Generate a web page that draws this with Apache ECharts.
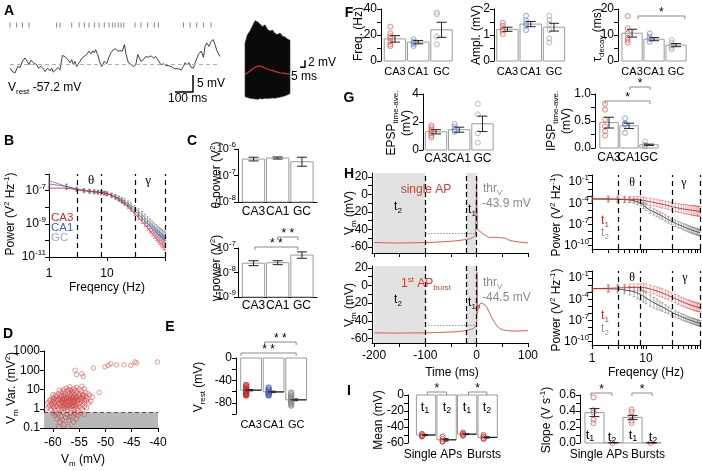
<!DOCTYPE html>
<html><head><meta charset="utf-8">
<script src="https://cdn.jsdelivr.net/npm/echarts@6/dist/echarts.min.js"></script>
<style>html,body{margin:0;padding:0;background:#fff}#c{width:702px;height:471px}</style>
</head><body><div id="c"></div>
<script>
// ================= DATA =================
// A: membrane potential trace (ms, mV) and spike times
const traceTimes = [0,13,28,43,56,69,83,95,106,117,130,148,158,172,185,195,209,222,232,241,254,265,278,291,306,321,334,343,352,361,371,384,395,402,413,426,439,450,460,469,476,487,500,510,524,537,550,561,574,587,599,611,624,636,645,658,673,686,699,710,717,728,741,754,769,784,797,810,821,828,839,852,865,880,895,908,921,936,951,964,973,984,995,1006,1019,1032,1047,1062,1075,1084,1093,1106,1117,1130,1140,1151,1158,1167];
const traceVm = [-58.2,-59.2,-59.6,-57.7,-58.0,-56.2,-55.2,-56.2,-57.2,-55.9,-56.6,-57.2,-58.2,-57.7,-58.4,-59.2,-58.2,-59.0,-58.2,-59.4,-58.7,-58.0,-58.7,-54.5,-54.8,-55.7,-56.6,-55.7,-57.2,-56.2,-57.7,-56.6,-56.2,-55.2,-55.7,-54.2,-53.2,-54.0,-53.1,-53.7,-52.8,-54.2,-56.6,-57.7,-56.2,-56.9,-55.0,-53.7,-52.8,-52.5,-53.2,-53.1,-53.2,-51.3,-54.2,-56.6,-57.2,-57.7,-57.2,-54.2,-53.7,-56.2,-55.7,-54.8,-55.0,-54.6,-55.2,-54.8,-55.7,-55.2,-57.2,-56.9,-57.4,-57.5,-57.7,-58.2,-58.4,-58.4,-58.7,-57.7,-56.6,-57.2,-56.6,-58.0,-58.2,-56.2,-54.2,-53.2,-55.0,-51.8,-50.8,-51.8,-50.4,-49.8,-49.3,-53.2,-53.7,-54.8];
const vRest = -57.2;
const spikeTimes = [0,37,69,106,259,278,343,384,413,439,469,495,524,550,569,584,602,617,632,695,728,765,802,825,964,1001,1038,1075,1117];
// A: EPSP waveform overlay (ms, mV relative)
const wfTimes = [0,2.5,5,7.5,10,12.5,15,17.5,20,22.5,25,27.5,30,32.5,35,37.5,40,42.5,45];
const wfUpper = [9,11.5,12.5,14,15.5,15.2,14.5,13.8,14.3,13,12.5,12.8,11.8,11.5,11.9,11,10.8,10.2,9.8];
const wfLower = [-6.5,-6.8,-7,-7.1,-7.2,-7.3,-7.1,-7.2,-7.0,-7.1,-7.0,-6.9,-7.0,-6.8,-6.7,-6.5,-6.3,-6.0,-5.6];
const wfMean = [0,0.4,0.9,1.5,2.0,2.3,2.3,2.1,1.8,1.5,1.2,1.0,0.8,0.6,0.4,0.3,0.2,0.1,0];

// B: power spectra (log10 V^2/Hz)
const freqs = [1,2,3,4,5,6,7,8,9,10,12,14,16,18,20,23,26,30,35,40,45,50,55,60,65,70,75,80,85,90,95,100];
const ca3LogPow = [-6.85,-6.85,-6.95,-7.0,-7.05,-7.08,-7.1,-7.12,-7.15,-7.2,-7.3,-7.42,-7.55,-7.68,-7.8,-7.98,-8.15,-8.38,-8.62,-8.85,-9.05,-9.25,-9.42,-9.58,-9.72,-9.85,-9.97,-10.08,-10.18,-10.27,-10.35,-10.42];
const ca1LogPow = [-6.6,-6.75,-6.9,-6.98,-7.02,-7.05,-7.08,-7.1,-7.13,-7.17,-7.26,-7.37,-7.48,-7.6,-7.72,-7.88,-8.03,-8.23,-8.45,-8.65,-8.83,-9.0,-9.15,-9.28,-9.4,-9.51,-9.61,-9.7,-9.78,-9.86,-9.93,-10.0];
const gcLogPow = [-6.4,-6.75,-6.92,-7.0,-7.05,-7.08,-7.1,-7.13,-7.16,-7.2,-7.28,-7.37,-7.46,-7.55,-7.64,-7.77,-7.9,-8.07,-8.27,-8.45,-8.62,-8.78,-8.92,-9.05,-9.17,-9.28,-9.38,-9.47,-9.55,-9.62,-9.69,-9.75];
const ca3LogErr = [0.08,0.08,0.08,0.08,0.08,0.08,0.08,0.08,0.09,0.09,0.1,0.1,0.1,0.1,0.11,0.11,0.12,0.12,0.13,0.13,0.14,0.14,0.15,0.15,0.16,0.16,0.17,0.17,0.18,0.18,0.19,0.2];
const ca1LogErr = [0.25,0.12,0.1,0.1,0.1,0.1,0.1,0.1,0.1,0.1,0.1,0.11,0.11,0.11,0.12,0.12,0.12,0.13,0.13,0.13,0.14,0.14,0.14,0.15,0.15,0.15,0.16,0.16,0.16,0.17,0.17,0.17];
const gcLogErr = [0.35,0.15,0.12,0.12,0.12,0.12,0.12,0.12,0.12,0.12,0.13,0.13,0.14,0.14,0.15,0.15,0.16,0.17,0.18,0.19,0.2,0.21,0.22,0.22,0.23,0.23,0.24,0.24,0.25,0.25,0.26,0.26];
const bandEdgesHz = [3,8,30,100];

// C: band power (log10 V^2)
const groups = ['CA3','CA1','GC'];
const thetaLogPow = [-6.38,-6.34,-6.48];
const thetaLogErr = [0.07,0.04,0.17];
const gammaLogPow = [-7.62,-7.6,-7.29];
const gammaLogErr = [0.1,0.08,0.13];

// D: Vm vs Vm variance
const dPoints = [[-55.8,100],[-55.5,60],[-54.5,66],[-54.2,47],[-52.3,130],[-50.1,150],[-49.5,180],[-49,220],[-47.9,190],[-46.5,190],[-45.2,180],[-44.4,270],[-44.1,240],[-40.1,270],[-51.2,7],
[-57.5,12],[-56.8,14],[-56,11],[-55.5,13],[-55,10],[-54.5,15],[-58,10],[-57,10.5],[-54,11],[-55.8,9],
[-59,6],[-58.5,7],[-58,8],[-57.6,6],[-57.2,8.5],[-56.9,7],[-56.5,6],[-56.2,8],[-55.9,5.5],[-55.4,7],[-55,6],[-54.7,8],[-54.3,5.5],[-53.8,7],[-53.3,6],[-59.5,5],[-60,5.5],[-58.8,9],[-57.9,5],[-56.6,9],[-53,5],[-52.5,4],
[-60.5,3],[-60,4],[-59.6,3.5],[-59.2,4.5],[-58.9,3],[-58.6,4],[-58.2,3.5],[-57.9,4.5],[-57.6,3],[-57.3,4],[-57,3.5],[-56.7,4.8],[-56.4,3.2],[-56.1,4.2],[-55.8,3.6],[-55.5,4.5],[-55.2,3],[-54.9,4],[-54.6,3.3],[-54.2,4],[-53.9,3],[-53.5,3.5],[-59.9,3.2],[-58.4,4.8],[-57.4,3.3],[-56.9,4.1],[-55.7,3.1],[-54.4,4.6],
[-61,2],[-60.7,2.5],[-60.3,1.8],[-60,2.8],[-59.7,2.2],[-59.4,1.6],[-59.1,2.6],[-58.8,2],[-58.5,1.7],[-58.2,2.4],[-57.9,2.9],[-57.7,1.9],[-57.5,2.3],[-57.2,1.6],[-57,2.7],[-56.8,2.1],[-56.5,1.8],[-56.3,2.5],[-56,2],[-55.8,1.6],[-55.5,2.3],[-55.2,2.8],[-54.9,1.9],[-54.6,2.4],[-54.3,1.7],[-54,2.2],[-53.6,2.6],[-53.2,2],[-58.6,2.8],[-57.3,2.5],[-56.6,2.9],[-55.9,2.7],[-59.9,1.7],[-58,1.5],[-56.1,1.5],[-52.8,2.4],
[-61.2,1],[-60.8,1.2],[-60.4,0.9],[-60.1,1.4],[-59.8,1.1],[-59.5,0.85],[-59.2,1.3],[-58.9,1],[-58.6,1.4],[-58.3,0.9],[-58,1.2],[-57.8,1],[-57.5,1.4],[-57.2,0.9],[-56.9,1.2],[-56.6,1],[-56.3,1.3],[-56,0.9],[-55.7,1.2],[-55.4,1],[-55.1,1.3],[-54.7,1.1],[-54.4,0.9],[-54,1.3],[-53.6,1.1],[-58.4,1.1],[-57.4,1.15],[-56.5,1.45],
[-60,0.6],[-59.6,0.45],[-59.3,0.3],[-59,0.55],[-58.7,0.2],[-58.4,0.4],[-58.1,0.65],[-57.9,0.15],[-57.6,0.35],[-57.3,0.5],[-57,0.25],[-56.7,0.6],[-56.4,0.4],[-56.1,0.2],[-55.8,0.55],[-55.5,0.3],[-55.2,0.45],[-58.9,0.12],[-58.2,0.28],[-57.1,0.12],[-56.8,0.38],[-59.4,0.6],[-55.9,0.65],[-54.8,0.6],[-54,0.5],
[-58.1,3.1],[-57.8,2.1],[-57.5,3.7],[-57.1,2.2],[-56.7,3.4],[-56.4,1.9],[-56.2,3.8],[-55.9,2.2],[-55.6,3.9],[-55.3,1.8],[-58.7,3.3],[-58.3,2.2],[-57.6,1.7],[-56.9,1.5],[-56.1,2.7],[-55.6,1.4],[-57.9,6.5],[-56.3,6.8],[-55.1,5.2],[-58.9,1.8],[-59.3,2.9],[-59.6,1.3],[-60.2,2.3],[-60.6,1.6],[-54.8,2.9],[-54.5,3.6],[-54.1,5],[-53.7,4.2]];
const varThreshold = 0.65;

// E: resting potential
const vrestMeans = [-57.5,-60.5,-74.7];
const vrestErr = [1.2,1.3,1.6];
const vrestPts = [[-48,-50,-52,-54,-55,-56,-57,-58,-59,-60,-61,-62,-63,-64,-65,-66,-67],[-53,-56,-58,-60,-61,-62,-64,-66,-67],[-62,-65,-68,-70,-72,-74,-76,-78,-80,-82,-85]];

// F
const freqMeans = [17,14.5,24], freqErr = [2.5,1.3,5.8];
const freqPts = [[26.4,21.3,19.2,17.4,14.9,12.8,11.5],[16.7,14.9,14,13,11.5],[37.4,35.9,18.7,12.8]];
const amplMeans = [1.22,1.42,1.3], amplErr = [0.08,0.1,0.15];
const amplPts = [[1.47,1.35,1.22,1.17,1.04],[1.74,1.55,1.45,1.35,1.19],[1.74,1.58,1.42,1.19,0.87,0.71]];
const tauMeans = [10.7,8.4,6.1], tauErr = [1.5,0.6,0.6];
const tauPts = [[17.3,12.6,10.6,9.0,8.1,7.1],[10.6,9.4,8.5,7.4],[8.1,7.1,6.0,5.3,4.5]];
// G
const epspMeans = [1.3,1.45,1.87], epspErr = [0.15,0.18,0.55];
const epspPts = [[1.75,1.6,1.45,1.35,1.2,1.05,0.9],[1.85,1.65,1.5,1.4,1.3],[3.3,2.55,1.2,0.52]];
const ipspMeans = [0.47,0.41,0.06], ipspErr = [0.1,0.05,0.012];
const ipspPts = [[0.82,0.71,0.53,0.4,0.31,0.23],[0.55,0.46,0.45,0.43,0.28],[0.12,0.06,0.04,0.03]];

// H left: averaged Vm around single AP / first AP of burst
const hTimeTop = [-200,-180,-160,-140,-120,-100,-80,-60,-40,-30,-20,-15,-10,-6,-4,-2,-1,0,0.5,1.5,3,5,8,12,16,20,25,28,30,32,34,36,38,40,42,44,46,48,50,52,54,56,58,60,65,70,80,90,100];
const hVmTop = [-55,-55.3,-55.6,-55.5,-55.3,-55,-54.6,-54,-53,-52.3,-51.5,-51,-50,-49,-48,-46.5,-45,20,-10,-38,-41,-41.5,-43,-45,-46.5,-48,-49.5,-50,-49,-51,-49,-51.2,-49,-51.2,-49.2,-51.3,-49.4,-51.5,-49.7,-51.6,-50,-51.8,-50.5,-52,-52.8,-53.3,-54.2,-55,-55.5];
const hTimeBot = [-200,-160,-120,-100,-80,-60,-40,-20,-10,-5,-2,0,0.5,1.5,2.5,4,5,6,8,10,13,16,20,25,30,35,40,45,50,60,70,80,100];
const hVmBot = [-53.5,-53.8,-53.6,-53.5,-53.2,-52.8,-52.3,-51,-49.5,-48,-46.5,-45,15,-32,-25,-22,-26,-21,-20,-19.5,-20,-22,-25,-31,-37,-42,-46,-48.5,-50,-51,-51.5,-51.5,-51];
const thrTop = -43.9, thrBot = -44.5;
const t2Window = [-200,-100], t1Window = [-20,0];

// H right: spectra in windows t1, t2 (log10 V^2/Hz)
const t1TopLogPow = [-3.4,-3.4,-3.42,-3.45,-3.45,-3.48,-3.5,-3.55,-3.6,-3.68,-3.8,-3.9,-4.0,-4.08,-4.15,-4.25,-4.35,-4.5,-4.6,-4.7,-4.77,-4.83,-4.88,-4.93,-4.97,-5.0,-5.03,-5.06,-5.09,-5.12,-5.15,-5.18];
const t2TopLogPow = [-3.4,-3.42,-3.45,-3.5,-3.55,-3.65,-3.8,-4.0,-4.3,-4.6,-5.0,-5.25,-5.45,-5.65,-5.85,-6.1,-6.35,-6.6,-6.85,-7.05,-7.2,-7.35,-7.48,-7.6,-7.7,-7.8,-7.88,-7.95,-8.02,-8.08,-8.14,-8.2];
const t1TopErr = [0.45,0.45,0.45,0.45,0.45,0.45,0.45,0.45,0.45,0.45,0.5,0.5,0.5,0.5,0.55,0.55,0.55,0.6,0.6,0.6,0.6,0.65,0.65,0.65,0.65,0.7,0.7,0.7,0.7,0.7,0.7,0.7];
const t2TopErr = [0.3,0.3,0.3,0.35,0.35,0.35,0.4,0.4,0.45,0.45,0.45,0.45,0.45,0.45,0.45,0.45,0.45,0.45,0.45,0.45,0.45,0.45,0.45,0.45,0.45,0.45,0.45,0.45,0.45,0.45,0.45,0.45];
const t1BotLogPow = [-2.5,-2.45,-2.4,-2.38,-2.35,-2.33,-2.32,-2.32,-2.35,-2.4,-2.55,-2.7,-2.85,-3.0,-3.12,-3.3,-3.48,-3.7,-3.92,-4.12,-4.3,-4.45,-4.58,-4.7,-4.8,-4.88,-4.95,-5.02,-5.08,-5.13,-5.18,-5.22];
const t2BotLogPow = [-2.5,-2.52,-2.58,-2.68,-2.8,-2.95,-3.15,-3.35,-3.6,-3.85,-4.2,-4.5,-4.72,-4.92,-5.1,-5.35,-5.58,-5.85,-6.1,-6.3,-6.48,-6.62,-6.75,-6.86,-6.96,-7.05,-7.13,-7.2,-7.27,-7.33,-7.39,-7.45];
const t1BotErr = [0.5,0.5,0.5,0.5,0.5,0.5,0.5,0.5,0.55,0.55,0.55,0.55,0.6,0.6,0.6,0.6,0.6,0.6,0.6,0.6,0.6,0.6,0.6,0.6,0.6,0.6,0.6,0.6,0.6,0.6,0.6,0.6];
const t2BotErr = [0.4,0.45,0.5,0.55,0.6,0.7,0.8,0.8,0.8,0.8,0.8,0.75,0.7,0.65,0.6,0.55,0.5,0.5,0.45,0.45,0.45,0.45,0.4,0.4,0.4,0.4,0.4,0.4,0.4,0.4,0.4,0.4];

// I
const meanCats = ['t1','t2','t1','t2'];
const meanVm = [-50,-56,-49,-53], meanVmErr = [0.8,1.5,0.6,0.8];
const meanVmPts = [[-48.5,-50,-51.5,-52],[-52,-55,-57.5,-58.5],[-47,-48.5,-50,-51],[-50,-52,-54,-55]];
const slopeMeans = [0.38,0.004,0.32,0.003], slopeErr = [0.05,0.002,0.025,0.002];
const slopePts = [[0.57,0.41,0.38,0.29,0.25],[0.0],[0.42,0.39,0.33,0.28,0.25],[0.0]];

// ================= HELPERS =================
const FONT = "'Liberation Sans', Arial, Helvetica, sans-serif";
const SERIF = "'Liberation Serif', 'DejaVu Serif', serif";
const RED = '#c62d2d', BLUE = '#4a62ad';
const PT_COLS = ['#d9605a', '#7c8cc8', '#a8a8a8'];
const L10 = v => Math.log10(v);
const sup10 = v => '10{sup|' + v + '}';
const grids = [], xAxes = [], yAxes = [], series = [], graphics = [];
const AX_RICH = { sup: { fontSize: 8, verticalAlign: 'top', lineHeight: 8, color: '#000', fontFamily: FONT } };

function axisBase(o) {
  const lab = o.labels ? { show: true, customValues: o.labels, formatter: o.fmt || (v => String(v)), color: '#000', fontSize: o.fs || 12, fontFamily: FONT,
      margin: (o.margin == null ? 4 : o.margin), lineHeight: 16, rich: AX_RICH, showMinLabel: true, showMaxLabel: true, hideOverlap: false } : { show: false };
  return {
    type: 'value', min: o.min, max: o.max, show: o.show !== false,
    axisLine: { show: o.line !== false, onZero: false, lineStyle: { color: '#000', width: 1 } },
    axisTick: o.ticks ? { show: true, customValues: o.ticks, length: o.tickLen || 4, inside: false, lineStyle: { color: '#000', width: 1 } } : { show: false },
    axisLabel: lab,
    splitLine: { show: false }, splitArea: { show: false }
  };
}
function addGrid(r, xa, ya) {
  const i = grids.length;
  grids.push({ left: r[0], top: r[1], width: r[2], height: r[3], containLabel: false, outerBoundsMode: 'none' });
  xa.gridIndex = i; ya.gridIndex = i;
  xAxes.push(xa); yAxes.push(ya);
  return i;
}
function lineS(gi, data, color, width, extra) {
  return Object.assign({ type: 'line', xAxisIndex: gi, yAxisIndex: gi, data, showSymbol: false, symbol: 'none', silent: true,
    lineStyle: { color, width }, itemStyle: { color }, clip: false, z: 3 }, extra || {});
}
function errS(gi, rows, color, cap, lw, z) {
  return { type: 'custom', xAxisIndex: gi, yAxisIndex: gi, silent: true, z: z || 4, data: rows,
    renderItem(p, api) {
      const x = api.value(0), lo = api.value(1), hi = api.value(2);
      const a = api.coord([x, lo]), b = api.coord([x, hi]);
      const st = { stroke: color, lineWidth: lw, fill: null };
      const ch = [{ type: 'line', shape: { x1: a[0], y1: a[1], x2: b[0], y2: b[1] }, style: st }];
      if (cap > 0) {
        ch.push({ type: 'line', shape: { x1: a[0] - cap, y1: a[1], x2: a[0] + cap, y2: a[1] }, style: st });
        ch.push({ type: 'line', shape: { x1: b[0] - cap, y1: b[1], x2: b[0] + cap, y2: b[1] }, style: st });
      }
      return { type: 'group', children: ch };
    } };
}
function barS(gi, rows, base, halfW) {
  return { type: 'custom', xAxisIndex: gi, yAxisIndex: gi, silent: true, z: 2, data: rows,
    renderItem(p, api) {
      const x = api.value(0), v = api.value(1);
      const a = api.coord([x - halfW, v]), b = api.coord([x + halfW, base]);
      return { type: 'rect', shape: { x: a[0], y: Math.min(a[1], b[1]), width: b[0] - a[0], height: Math.abs(b[1] - a[1]) },
        style: { fill: '#fff', stroke: '#9a9a9a', lineWidth: 1 } };
    } };
}
function hsegS(gi, rows, from, to, color, lw) {
  return { type: 'custom', xAxisIndex: gi, yAxisIndex: gi, silent: true, z: 5, data: rows,
    renderItem(p, api) {
      const x = api.value(0), v = api.value(1);
      const a = api.coord([x + from, v]), b = api.coord([x + to, v]);
      return { type: 'line', shape: { x1: a[0], y1: a[1], x2: b[0], y2: b[1] }, style: { stroke: color, lineWidth: lw } };
    } };
}
// category labels under a value x-axis, placed through the axis scale
function catLabelS(gi, cats, yBase, margin, fs) {
  return { type: 'custom', xAxisIndex: gi, yAxisIndex: gi, silent: true, z: 6, data: cats.map((c, i) => [i, yBase]),
    renderItem(p, api) {
      const pt = api.coord([api.value(0), api.value(1)]);
      return { type: 'text', style: { text: cats[p.dataIndex], x: pt[0], y: pt[1] + margin, align: 'center', verticalAlign: 'top',
        textAlign: 'center', textVerticalAlign: 'top', fill: '#000', font: fs + 'px ' + FONT } };
    } };
}
function sigS(gi, br, gridTop) {
  return { type: 'custom', xAxisIndex: gi, yAxisIndex: gi, silent: true, z: 6, data: br.map((s, i) => [s.a, s.b, i]),
    renderItem(p, api) {
      const s = br[api.value(2)];
      const x1 = api.coord([api.value(0), 0])[0], x2 = api.coord([api.value(1), 0])[0];
      const y = gridTop - s.off;
      return { type: 'group', children: [
        { type: 'polyline', shape: { points: [[x1, y + 3], [x1, y], [x2, y], [x2, y + 3]] }, style: { stroke: '#8a8a8a', lineWidth: 1, fill: null } },
        { type: 'text', style: { text: s.text, x: (x1 + x2) / 2, y: y + 3, align: 'center', verticalAlign: 'bottom', textAlign: 'center', textVerticalAlign: 'bottom', fill: '#000', font: '12px ' + FONT } }
      ] };
    } };
}
function richify(text) {
  return text.split(/(\{[a-z]+\|[^}]*\})/).filter(s => s.length).map(s => s[0] === '{' ? s : '{n|' + s + '}').join('');
}
function txt(x, y, text, o) {
  o = o || {};
  const fs = o.fs || 12, col = o.color || '#000', fam = o.family || FONT, fw = o.bold ? 'bold' : 'normal';
  const small = Math.round(fs * 0.7);
  const rich = {
    n: { fontSize: fs, lineHeight: fs + 4, verticalAlign: 'middle', fill: col, color: col, fontFamily: fam, fontWeight: fw },
    sub: { fontSize: small, verticalAlign: 'bottom', lineHeight: small, fill: col, color: col, fontFamily: fam },
    sup: { fontSize: small, verticalAlign: 'top', lineHeight: small, fill: col, color: col, fontFamily: fam }
  };
  graphics.push({ type: 'text', x, y, rotation: o.rot ? Math.PI / 2 : 0, z: 100, silent: true,
    style: { text: richify(text), fill: col, fontSize: fs, fontFamily: fam, fontWeight: fw,
      align: o.align || 'center', verticalAlign: 'middle', rich } });
}
function barPanel(o) {
  const gi = addGrid(o.rect,
    axisBase({ min: o.xr[0], max: o.xr[1], line: !!o.xLine, labels: null }),
    axisBase({ min: o.yr[0], max: o.yr[1], labels: o.yLabels, ticks: o.yTicks, fmt: o.yFmt, margin: (o.yMargin == null ? 4 : o.yMargin), fs: o.yFs }));
  series.push(barS(gi, o.means.map((m, i) => [i, m]), o.base, o.halfW || 0.46));
  if (o.xLabels !== false) series.push(catLabelS(gi, o.cats, o.yr[0], o.xMargin == null ? 4 : o.xMargin, o.xFs || 12));
  if (o.pts) o.pts.forEach((arr, i) => {
    series.push({ type: 'scatter', xAxisIndex: gi, yAxisIndex: gi, silent: true, z: 3, symbol: 'circle', symbolSize: o.ps || 5,
      data: arr.map(v => [i + (o.ptOff == null ? -0.2 : o.ptOff), v]),
      itemStyle: { color: 'rgba(255,255,255,0)', borderColor: o.ptCols[i], borderWidth: o.pw || 1 } });
  });
  if (o.meanLine) series.push(hsegS(gi, o.means.map((m, i) => [i, m]), o.meanLine[0], o.meanLine[1], '#222', 1.2));
  series.push(errS(gi, o.means.map((m, i) => [i, m - o.errs[i], m + o.errs[i]]), '#222', o.cap == null ? 5 : o.cap, 1));
  if (o.sig) series.push(sigS(gi, o.sig, o.rect[1]));
  return gi;
}
const freqRows = (logP, err) => freqs.map((f, i) => [L10(f), logP[i] - err[i], logP[i] + err[i]]);
const freqLine = logP => freqs.map((f, i) => [L10(f), logP[i]]);
const bandLines = () => ({ silent: true, symbol: 'none', label: { show: false },
  lineStyle: { color: '#000', type: [5, 4], width: 1.2 }, data: bandEdgesHz.map(f => ({ xAxis: L10(f) })) });
const logTicks = [];
[1, 10].forEach(d => { for (let k = 1; k <= 9; k++) logTicks.push(L10(k * d)); });
logTicks.push(2);

// ================= PANEL A =================
const gA = addGrid([10, 20, 210, 80], axisBase({ min: 0, max: 1167, show: false }), axisBase({ min: -67.58, max: -44.05, show: false }));
series.push(lineS(gA, traceTimes.map((t, i) => [t, traceVm[i]]), '#111', 0.8, {
  markLine: { silent: true, symbol: 'none', label: { show: false }, lineStyle: { color: '#b0b0b0', type: [4, 3], width: 1.2 }, data: [{ yAxis: vRest }] } }));
series.push({ type: 'scatter', xAxisIndex: gA, yAxisIndex: gA, silent: true, symbol: 'rect', symbolSize: [1, 5],
  itemStyle: { color: '#666' }, data: spikeTimes.map(t => [t, -45.5]) });
series.push(lineS(gA, [[917, -65.2], [1017, -65.2], [1017, -60.2]], '#000', 1.5));

const gW = addGrid([245, 20, 65, 80], axisBase({ min: 0, max: 65, show: false }), axisBase({ min: -7.5, max: 15.7, show: false }));
series.push({ type: 'custom', xAxisIndex: gW, yAxisIndex: gW, silent: true, z: 2, data: [[0, 0]],
  renderItem(p, api) {
    const pts = [];
    wfTimes.forEach((t, i) => pts.push(api.coord([t, wfUpper[i]])));
    for (let i = wfTimes.length - 1; i >= 0; i--) pts.push(api.coord([wfTimes[i], wfLower[i]]));
    return { type: 'polygon', shape: { points: pts }, style: { fill: '#0a0a0a', stroke: '#333', lineWidth: 0.6 } };
  } });
series.push(lineS(gW, wfTimes.map((t, i) => [t, wfMean[i]]), '#d0342c', 1.2, { z: 5 }));
series.push(lineS(gW, [[55, 2], [60, 2], [60, 4]], '#000', 1.5));

// ================= PANEL B =================
const gB = addGrid([49, 174, 116, 83],
  axisBase({ min: 0, max: 2, labels: [0, 1], ticks: [0, 1, 2], fmt: v => String(Math.round(Math.pow(10, v))), margin: 9 }),
  axisBase({ min: -11, max: -6, labels: [-11, -9, -7], ticks: [-11, -10, -9, -8, -7, -6], fmt: sup10, margin: 3 }));
[[gcLogPow, gcLogErr, 'rgba(110,110,110,0.55)', 'rgba(120,120,120,0.8)'],
 [ca1LogPow, ca1LogErr, 'rgba(74,98,173,0.45)', 'rgba(74,98,173,0.8)'],
 [ca3LogPow, ca3LogErr, 'rgba(198,45,45,0.45)', 'rgba(198,45,45,0.85)']].forEach((g, k) => {
  series.push(errS(gB, freqRows(g[0], g[1]), g[2], 1.2, 1, 3));
  series.push(lineS(gB, freqLine(g[0]), g[3], 1, k === 0 ? { markLine: bandLines() } : {}));
});

// ================= PANEL C =================
barPanel({ rect: [238, 149, 79, 53], xr: [-0.64, 2.62], cats: groups, yr: [-8, -6], yLabels: [-8, -7, -6], yTicks: [-8, -7, -6], yFmt: sup10, yFs: 11, yMargin: 2,
  means: thetaLogPow, errs: thetaLogErr, pts: null, base: -8, xLine: true, cap: 5, xMargin: 4, xFs: 12 });
barPanel({ rect: [238, 248, 79, 49], xr: [-0.64, 2.62], cats: groups, yr: [-9, -7], yLabels: [-9, -8, -7], yTicks: [-9, -8, -7], yFmt: sup10, yFs: 11, yMargin: 2,
  means: gammaLogPow, errs: gammaLogErr, pts: null, base: -9, xLine: true, cap: 5, xMargin: 3, xFs: 12,
  sig: [{ a: 1, b: 1.83, text: '* *', off: 11 }, { a: 0.06, b: 1.83, text: '* *', off: 1 }] });

// ================= PANEL D =================
const gD = addGrid([44, 351, 114, 77],
  axisBase({ min: -61.7, max: -40, labels: [-60, -55, -50, -45, -40], ticks: [-60, -55, -50, -45, -40], margin: 7 }),
  axisBase({ min: -1, max: 3, labels: [-1, 0, 1, 2, 3], ticks: [-1, 0, 1, 2, 3], fmt: v => v < 0 ? Math.pow(10, v).toFixed(1) : String(Math.round(Math.pow(10, v))), margin: 4 }));
series.push({ type: 'scatter', xAxisIndex: gD, yAxisIndex: gD, silent: true, z: 4, symbol: 'circle', symbolSize: 4.5,
  itemStyle: { color: 'rgba(255,255,255,0)', borderColor: 'rgba(205,70,70,0.85)', borderWidth: 0.8 },
  data: dPoints.map(p => [p[0], L10(p[1])]),
  markArea: { silent: true, itemStyle: { color: '#b8b8b8' }, data: [[{ yAxis: -1 }, { yAxis: L10(varThreshold) }]] },
  markLine: { silent: true, symbol: 'none', label: { show: false }, lineStyle: { color: '#555', type: [4, 3], width: 1 }, data: [{ yAxis: L10(varThreshold) }] } });

// ================= PANEL E =================
barPanel({ rect: [236, 358, 73, 56], xr: [-0.67, 2.57], cats: groups, yr: [-100, 0], yLabels: [-80, -40, 0], yTicks: [-100, -80, -60, -40, -20, 0],
  means: vrestMeans, errs: vrestErr, pts: vrestPts, ptCols: ['#c8323a', '#4b66b0', '#8a8a8a'], ptOff: -0.22, ps: 5, pw: 1.2,
  base: 0, xLine: false, xMargin: 5, xFs: 11, meanLine: [-0.25, 0.46], cap: 2,
  sig: [{ a: 0.6, b: 2.0, text: '* *', off: 16 }, { a: -0.45, b: 2.0, text: '* *', off: 5 }] });

// ================= PANEL F =================
barPanel({ rect: [381, 9, 74, 52], xr: [-0.6, 2.58], cats: groups, yr: [0, 40], yLabels: [0, 20, 40], yTicks: [0, 10, 20, 30, 40],
  means: freqMeans, errs: freqErr, pts: freqPts, ptCols: PT_COLS, base: 0, cap: 5, xMargin: 5, xFs: 11 });
barPanel({ rect: [494, 9, 73, 52], xr: [-0.58, 2.56], cats: groups, yr: [0, 2], yLabels: [0, 1, 2], yTicks: [0, 0.5, 1, 1.5, 2],
  means: amplMeans, errs: amplErr, pts: amplPts, ptCols: PT_COLS, base: 0, cap: 5, xMargin: 5, xFs: 11 });
barPanel({ rect: [618, 9, 71, 52], xr: [-0.64, 2.59], cats: groups, yr: [0, 20], yLabels: [0, 10, 20], yTicks: [0, 5, 10, 15, 20],
  means: tauMeans, errs: tauErr, pts: tauPts, ptCols: PT_COLS, base: 0, cap: 5, xMargin: 5, xFs: 11,
  sig: [{ a: 0.27, b: 2.4, text: '*', off: -7 }] });

// ================= PANEL G =================
barPanel({ rect: [423, 94, 72, 56], xr: [-0.56, 2.54], cats: groups, yr: [0, 4], yLabels: [0, 1, 2, 3, 4], yTicks: [0, 1, 2, 3, 4],
  means: epspMeans, errs: epspErr, pts: epspPts, ptCols: PT_COLS, base: 0, cap: 5, xMargin: 3, xFs: 12 });
barPanel({ rect: [595, 94, 67, 54], xr: [-0.7, 2.65], cats: groups, yr: [0, 1], yLabels: [0, 0.5, 1], yTicks: [0, 0.25, 0.5, 0.75, 1],
  yFmt: v => v.toFixed(1), means: ipspMeans, errs: ipspErr, pts: ipspPts, ptCols: PT_COLS, base: 0, cap: 5, xMargin: 4, xFs: 12,
  sig: [{ a: 1.05, b: 2.05, text: '*', off: 7 }, { a: -0.2, b: 2.05, text: '*', off: -7 }] });

// ================= PANEL H (left) =================
function hLeft(rect, times, vm, thr, yr, showX) {
  const gi = addGrid(rect,
    axisBase({ min: -204, max: 100, labels: showX ? [-200, -100, 0, 100] : null, ticks: [-200, -150, -100, -50, 0, 50, 100], margin: 5 }),
    axisBase({ min: yr[0], max: yr[1], labels: [-60, -40, -20, 0, 20], ticks: [-60, -50, -40, -30, -20, -10, 0, 10, 20] }));
  series.push(lineS(gi, times.map((t, i) => [t, vm[i]]), '#d0605a', 1, {
    clip: true,
    markArea: { silent: true, itemStyle: { color: '#e2e2e2' }, data: [[{ xAxis: t2Window[0] }, { xAxis: t2Window[1] }], [{ xAxis: t1Window[0] }, { xAxis: t1Window[1] }]] },
    markLine: { silent: true, symbol: 'none', label: { show: false }, lineStyle: { color: '#000', type: [5, 3], width: 1.2 },
      data: [{ xAxis: t2Window[1] }, { xAxis: t1Window[0] }, { xAxis: t1Window[1] },
        [{ coord: [t2Window[1], thr], lineStyle: { color: '#666', type: [1, 2], width: 1 } }, { coord: [0, thr], lineStyle: { color: '#666', type: [1, 2], width: 1 } }]] }
  }));
  return gi;
}
hLeft([372, 173, 156, 80], hTimeTop, hVmTop, thrTop, [-67, 24.5], false);
hLeft([372, 266, 156, 77], hTimeBot, hVmBot, thrBot, [-65, 22], true);

// ================= PANEL H (right) =================
function hRight(rect, p1, e1, p2, e2, showX) {
  const gi = addGrid(rect,
    axisBase({ min: 0, max: 2, labels: showX ? [0, 1] : null, ticks: logTicks, fmt: v => String(Math.round(Math.pow(10, v))), margin: 6 }),
    axisBase({ min: -10.5, max: 0, labels: [-10, -7, -4, -1], ticks: [-10, -9, -8, -7, -6, -5, -4, -3, -2, -1, 0], fmt: sup10, margin: 3 }));
  series.push(errS(gi, freqRows(p2, e2), 'rgba(85,85,85,0.45)', 1.5, 1, 3));
  series.push(lineS(gi, freqLine(p2), 'rgba(70,70,70,0.9)', 1, { markLine: bandLines() }));
  series.push(errS(gi, freqRows(p1, e1), 'rgba(205,55,55,0.42)', 1.5, 1, 3));
  series.push(lineS(gi, freqLine(p1), 'rgba(195,40,40,0.9)', 1));
  return gi;
}
hRight([592, 175, 108, 74], t1TopLogPow, t1TopErr, t2TopLogPow, t2TopErr, false);
hRight([592, 271, 108, 74], t1BotLogPow, t1BotErr, t2BotLogPow, t2BotErr, true);

// ================= PANEL I =================
barPanel({ rect: [408, 395, 92, 48], xr: [-0.88, 3.6], cats: meanCats, xLabels: false, yr: [-60, 0], yLabels: [-60, -40, -20, 0],
  yTicks: [-60, -50, -40, -30, -20, -10, 0], means: meanVm, errs: meanVmErr, pts: meanVmPts, ptCols: [RED, RED, RED, RED], ptOff: -0.2,
  base: 0, meanLine: [-0.2, 0.46], cap: 2, halfW: 0.47,
  sig: [{ a: 0.06, b: 1.0, text: '*', off: 3 }, { a: 2.06, b: 2.96, text: '*', off: 3 }] });
barPanel({ rect: [580, 395, 82, 48], xr: [-0.76, 3.55], cats: meanCats, xLabels: false, yr: [0, 0.6], yLabels: [0, 0.2, 0.4, 0.6],
  yTicks: [0, 0.1, 0.2, 0.3, 0.4, 0.5, 0.6], yFmt: v => v.toFixed(1), means: slopeMeans, errs: slopeErr, pts: slopePts,
  ptCols: ['#d9605a', '#d9605a', '#d9605a', '#d9605a'], ptOff: -0.05, base: 0, cap: 5, halfW: 0.5,
  sig: [{ a: -0.18, b: 0.92, text: '*', off: 2 }, { a: 1.97, b: 3.03, text: '*', off: 2 }] });

// ================= TEXT =================
[['A', 9, 11], ['B', 9, 141], ['C', 192, 141], ['D', 8, 334], ['E', 170, 327], ['F', 349, 13], ['G', 349, 98], ['H', 349, 174], ['I', 349, 391]]
  .forEach(l => txt(l[1], l[2], l[0], { bold: true, fs: 14 }));
// A
txt(8, 88, 'V{sub|rest} -57.2 mV', { align: 'left' });
txt(197, 84, '5 mV', { align: 'left' });
txt(168, 99, '100 ms', { align: 'left' });
txt(308, 63, '2 mV', { align: 'left' });
txt(291, 77, '5 ms', { align: 'left' });
// B
txt(91, 181, 'θ', { family: SERIF, fs: 13 });
txt(148, 181, 'γ', { family: SERIF, fs: 13 });
txt(51, 218, 'CA3', { align: 'left', color: RED, fs: 11.5 });
txt(51, 228, 'CA1', { align: 'left', color: BLUE, fs: 11.5 });
txt(51, 238, 'GC', { align: 'left', color: '#aaa', fs: 11.5 });
txt(11, 214, 'Power (V{sup|2} Hz{sup|-1})', { rot: true });
txt(107, 288, 'Freqency (Hz)');
// C
txt(217, 175, 'θ-power (V{sup|2})', { rot: true });
txt(217, 268, 'γ-power (V{sup|2})', { rot: true });
// D
txt(12, 388, 'V{sub|m} Var. (mV{sup|2})', { rot: true });
txt(83, 460, 'V{sub|m} (mV)');
// E
txt(199, 387, 'V{sub|rest} (mV)', { rot: true });
// F
txt(359, 34, 'Freq. (Hz)', { rot: true });
txt(477, 35, 'Ampl. (mV)', { rot: true });
txt(598, 35, 'τ{sub|decay} (ms)', { rot: true });
// G
txt(392, 123, 'EPSP{sub|time-ave.}', { rot: true });
txt(407, 123, '(mV)', { rot: true });
txt(552, 121, 'IPSP{sub|time-ave.}', { rot: true });
txt(567, 121, '(mV)', { rot: true });
// H left
txt(350, 213, 'V{sub|m} (mV)', { rot: true });
txt(350, 305, 'V{sub|m} (mV)', { rot: true });
txt(426, 190, 'single AP', { color: '#c8403a' });
txt(398, 207, 't{sub|2}');
txt(472, 210, 't{sub|1}');
txt(483, 189, 'thr{sub|V}', { align: 'left', color: '#8a8a8a' });
txt(482, 204, '-43.9 mV', { align: 'left', color: '#8a8a8a' });
txt(426, 284, '1{sup|st} AP{sub|burst}', { color: '#c8403a' });
txt(398, 300, 't{sub|2}');
txt(472, 303, 't{sub|1}');
txt(483, 283, 'thr{sub|V}', { align: 'left', color: '#8a8a8a' });
txt(482, 298, '-44.5 mV', { align: 'left', color: '#8a8a8a' });
txt(452, 373, 'Time (ms)');
// H right
txt(557, 215, 'Power (V{sup|2} Hz{sup|-1})', { rot: true });
txt(557, 310, 'Power (V{sup|2} Hz{sup|-1})', { rot: true });
txt(632, 183, 'θ', { family: SERIF, fs: 12 });
txt(684, 183, 'γ', { family: SERIF, fs: 12 });
txt(632, 278, 'θ', { family: SERIF, fs: 12 });
txt(685, 278, 'γ', { family: SERIF, fs: 12 });
txt(605, 221, 't{sub|1}', { color: RED });
txt(605, 233, 't{sub|2}', { color: '#999' });
txt(605, 316, 't{sub|1}', { color: RED });
txt(605, 329, 't{sub|2}', { color: '#999' });
txt(646, 373, 'Freqency (Hz)');
// I
txt(379, 420, 'Mean (mV)', { rot: true });
txt(547, 420, 'Slope (V s{sup|-1})', { rot: true });
txt(433, 455, 'Single APs');
txt(484, 455, 'Bursts');
txt(599, 455, 'Single APs');
txt(648, 455, 'Bursts');
[[425, 407, 't{sub|1}'], [447, 407, 't{sub|2}'], [467, 407, 't{sub|1}'], [487, 407, 't{sub|2}'],
 [590, 435, 't{sub|1}'], [612, 437, 't{sub|2}'], [633, 435, 't{sub|1}'], [653, 437, 't{sub|2}']]
  .forEach(t => txt(t[0], t[1], t[2], { fs: 13 }));

// ================= RENDER =================
const chart = echarts.init(document.getElementById('c'), null, { renderer: 'canvas', width: 702, height: 471 });
chart.setOption({ animation: false, backgroundColor: '#fff', textStyle: { fontFamily: FONT },
  grid: grids, xAxis: xAxes, yAxis: yAxes, series: series, graphic: { elements: graphics } });
</script>
</body></html>
